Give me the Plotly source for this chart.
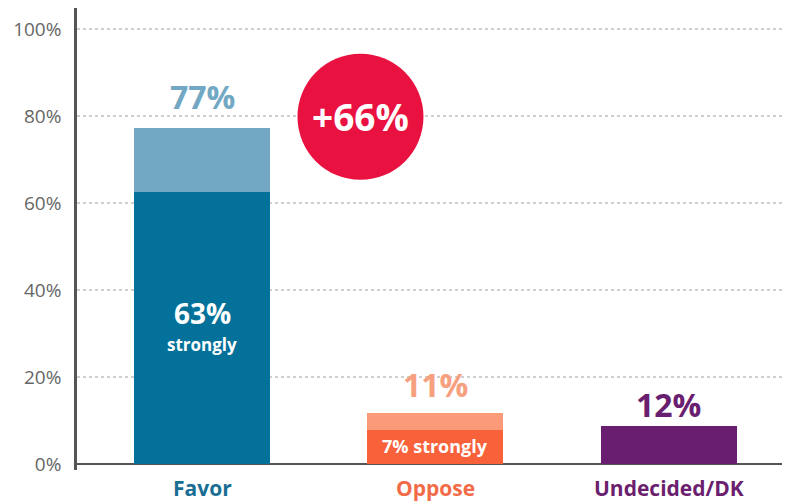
import plotly.graph_objects as go

categories = ["Favor", "Oppose", "Undecided/DK"]
total_values = [77.2, 11.7, 8.7]
strong_values = [62.6, 7.8, 8.7]
total_labels = ["77%", "11%", "12%"]
y_ticks = [0, 20, 40, 60, 80, 100]
margin_label = "+66%"

dark_colors = ["#04719A", "#F8613A", "#6A1E6F"]
light_colors = ["#72A8C4", "#FA9A78", "#6A1E6F"]
total_label_colors = ["#72A8C4", "#F7A07F", "#6A1E6F"]
cat_colors = ["#1A6E93", "#F26B47", "#6B1F6E"]

x = list(range(len(categories)))
rest = [t - s for t, s in zip(total_values, strong_values)]

fig = go.Figure()
fig.add_trace(go.Bar(x=x, y=strong_values, marker=dict(color=dark_colors, line=dict(width=0)),
                     width=0.584, hoverinfo="skip"))
fig.add_trace(go.Bar(x=x, y=rest, marker=dict(color=light_colors, line=dict(width=0)),
                     width=0.584, hoverinfo="skip"))

FONT = "Open Sans"
annotations = []
label_y = [84.4, 18.2, 13.6]
for i in x:
    annotations.append(dict(x=i, y=label_y[i], text="<b>%s</b>" % total_labels[i], showarrow=False,
                            font=dict(family=FONT, size=32, color=total_label_colors[i])))
annotations.append(dict(x=0, y=34.6, text="<b>63%</b>", showarrow=False,
                        font=dict(family=FONT, size=28, color="white")))
annotations.append(dict(x=0, y=27.4, text="<b>strongly</b>", showarrow=False,
                        font=dict(family=FONT, size=17, color="white")))
annotations.append(dict(x=1, y=4.1, text="<b>7% strongly</b>", showarrow=False,
                        font=dict(family=FONT, size=18, color="white")))
for i in x:
    annotations.append(dict(x=i, xref="x", y=-0.039, yref="paper", yanchor="middle",
                            text="<b>%s</b>" % categories[i], showarrow=False, borderpad=0,
                            font=dict(family=FONT, size=21, color=cat_colors[i])))
cx, cy = 0.679, 79.8
annotations.append(dict(x=cx, y=cy, text="<b>%s</b>" % margin_label, showarrow=False,
                        font=dict(family=FONT, size=37, color="white")))

shapes = [
    dict(type="circle", xref="x", yref="y", x0=cx - 0.27, x1=cx + 0.27, y0=cy - 14.5, y1=cy + 14.5,
         fillcolor="#E8113F", line=dict(width=0), layer="above"),
]

fig.update_layout(
    width=782, height=496,
    margin=dict(l=69, r=0, t=0, b=34, autoexpand=False),
    barmode="stack",
    showlegend=False,
    plot_bgcolor="white",
    paper_bgcolor="white",
    bargap=0,
    annotations=annotations,
    shapes=shapes,
    xaxis=dict(range=[-0.536, 2.52], showticklabels=False, showgrid=False, zeroline=False,
               showline=False, fixedrange=True, automargin=False),
    yaxis=dict(range=[-1.38, 104.8], tickvals=y_ticks, ticktext=["%d%%" % v for v in y_ticks],
               showgrid=True, gridcolor="#CFCFCF", griddash="dot", gridwidth=1.5,
               zeroline=True, zerolinecolor="#555555", zerolinewidth=2,
               showline=True, linecolor="#555555", linewidth=2.5,
               ticks="", ticklabelstandoff=9, automargin=False,
               tickfont=dict(family=FONT, size=19, color="#666666")),
)

fig.write_html("out.html")
